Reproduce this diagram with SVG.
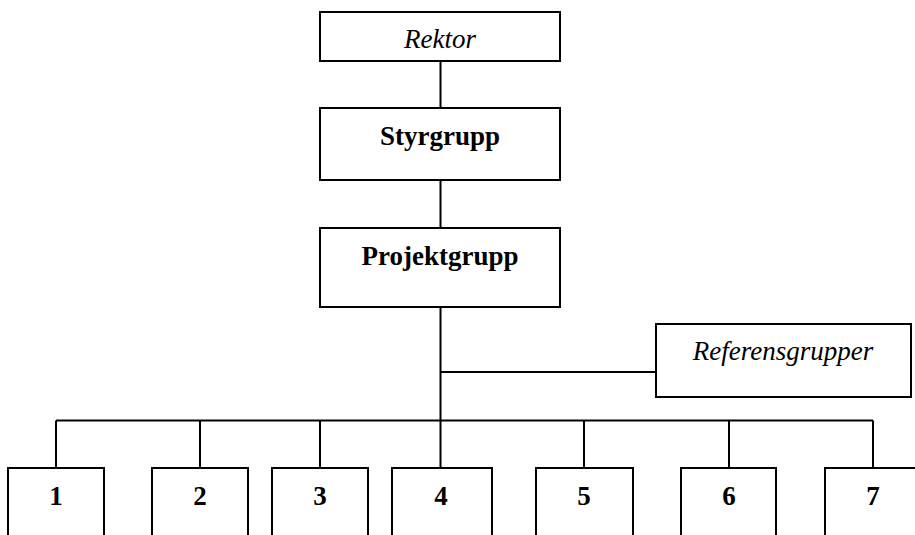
<svg xmlns="http://www.w3.org/2000/svg" width="915" height="535" viewBox="0 0 915 535">
<style>
.box{fill:#fff;stroke:#000;stroke-width:2}
.ln{fill:none;stroke:#000;stroke-width:2}
.t{font-family:"Liberation Serif","Times New Roman",serif;font-size:27px;fill:#000;text-anchor:middle}
.b{font-weight:bold}
.i{font-style:italic}
</style>
<rect width="915" height="535" fill="#fff"/>
<g id="connectors">
<path class="ln" d="M440.5,61 V108 M440.5,180 V228 M440.5,307 V468 M440.5,372 H656 M56,420.5 H873 M56,420.5 V468 M200,420.5 V468 M320,420.5 V468 M584,420.5 V468 M729,420.5 V468 M873,420.5 V468"/>
</g>
<g id="rektor"><rect class="box" x="320" y="12" width="240" height="49"/><text class="t i" x="440" y="48">Rektor</text></g>
<g id="styrgrupp"><rect class="box" x="320" y="108" width="240" height="72"/><text class="t b" x="440" y="145">Styrgrupp</text></g>
<g id="projektgrupp"><rect class="box" x="320" y="228" width="240" height="79"/><text class="t b" x="440" y="265">Projektgrupp</text></g>
<g id="referensgrupper"><rect class="box" x="656" y="324" width="255" height="73"/><text class="t i" x="783" y="360">Referensgrupper</text></g>
<g id="n1"><rect class="box" x="8" y="468" width="96" height="80"/><text class="t b" x="56" y="505">1</text></g>
<g id="n2"><rect class="box" x="152" y="468" width="96" height="80"/><text class="t b" x="200" y="505">2</text></g>
<g id="n3"><rect class="box" x="272" y="468" width="96" height="80"/><text class="t b" x="320" y="505">3</text></g>
<g id="n4"><rect class="box" x="392" y="468" width="100" height="80"/><text class="t b" x="441" y="505">4</text></g>
<g id="n5"><rect class="box" x="536" y="468" width="97" height="80"/><text class="t b" x="584" y="505">5</text></g>
<g id="n6"><rect class="box" x="681" y="468" width="95" height="80"/><text class="t b" x="729" y="505">6</text></g>
<g id="n7"><rect class="box" x="825" y="468" width="100" height="80"/><text class="t b" x="873" y="505">7</text></g>
</svg>
